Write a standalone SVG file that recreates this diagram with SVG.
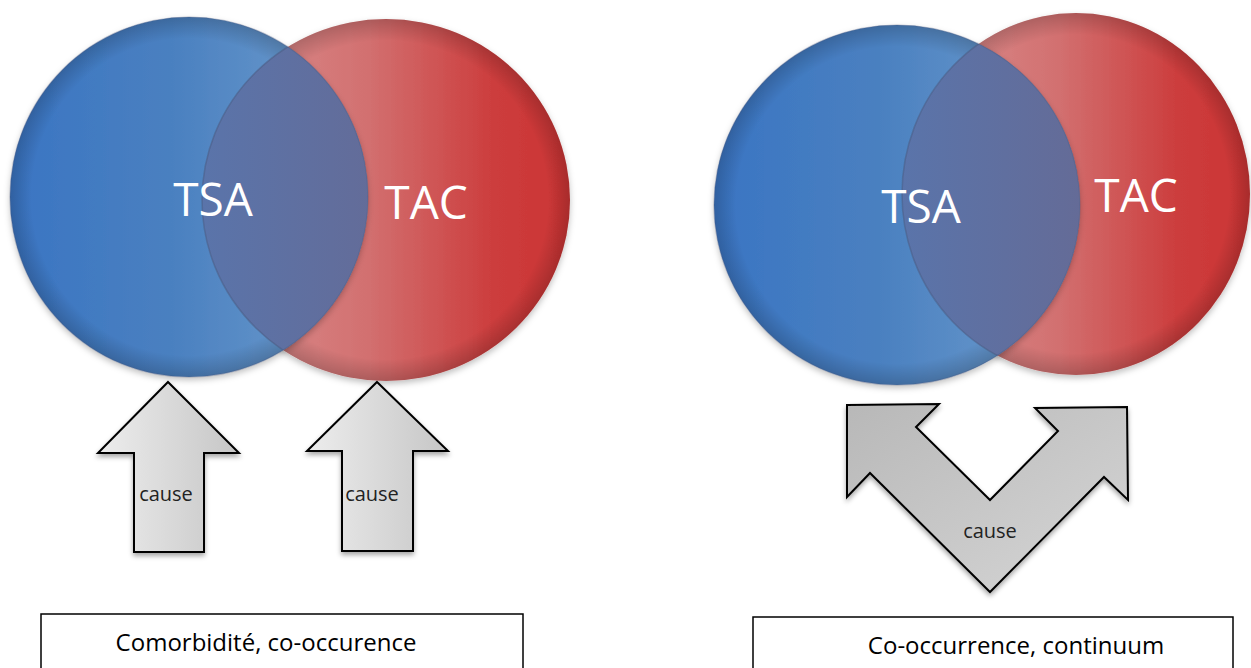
<svg xmlns="http://www.w3.org/2000/svg" width="1251" height="668" viewBox="0 0 1251 668">
<style>
.lbl{font-family:"Open Sans","Liberation Sans",sans-serif;fill:#fff;font-size:46px;text-anchor:middle}
.cause{font-family:"Open Sans","Liberation Sans",sans-serif;fill:#222;font-size:20px;text-anchor:middle}
.box{fill:#fff;stroke:#000;stroke-width:1.5}
.boxt{font-family:"Open Sans","Liberation Sans",sans-serif;fill:#000;font-size:24px;text-anchor:middle}
.arrow{stroke:#000;stroke-width:2;stroke-linejoin:miter}
</style>
<defs>
<linearGradient id="gBlue" x1="0" y1="0" x2="1" y2="0">
<stop offset="0" stop-color="#3a75c3"/>
<stop offset="0.45" stop-color="#4a80c0"/>
<stop offset="1" stop-color="#72a0cf"/>
</linearGradient>
<linearGradient id="gRed" x1="0" y1="0" x2="1" y2="0">
<stop offset="0" stop-color="#dc9494"/>
<stop offset="0.45" stop-color="#d27070"/>
<stop offset="0.8" stop-color="#cc3c3c"/>
<stop offset="1" stop-color="#cc3535"/>
</linearGradient>
<linearGradient id="gMix" x1="0" y1="0" x2="1" y2="0">
<stop offset="0" stop-color="#5a74aa"/>
<stop offset="1" stop-color="#6e6385"/>
</linearGradient>
<radialGradient id="gEdge" cx="0.5" cy="0.5" r="0.5">
<stop offset="0.88" stop-color="#000" stop-opacity="0"/>
<stop offset="1" stop-color="#000" stop-opacity="0.18"/>
</radialGradient>
<linearGradient id="gArrow" x1="0" y1="0" x2="1" y2="0">
<stop offset="0" stop-color="#ededed"/>
<stop offset="1" stop-color="#c6c6c6"/>
</linearGradient>
<linearGradient id="gV" x1="0" y1="0" x2="1" y2="1">
<stop offset="0" stop-color="#b8b8b8"/>
<stop offset="1" stop-color="#d6d6d6"/>
</linearGradient>
<filter id="sh" x="-20%" y="-20%" width="140%" height="140%">
<feDropShadow dx="0" dy="3" stdDeviation="2.5" flood-color="#000" flood-opacity="0.35"/>
</filter>
<filter id="shc" x="-20%" y="-20%" width="140%" height="140%">
<feDropShadow dx="0" dy="3" stdDeviation="3" flood-color="#000" flood-opacity="0.25"/>
</filter>
<clipPath id="clipBL"><ellipse cx="189" cy="197" rx="179" ry="180"/></clipPath>
<clipPath id="clipBR"><ellipse cx="897" cy="205" rx="183" ry="180"/></clipPath>
</defs>

<g id="venn-left">
<g id="tac-left">
<ellipse cx="386" cy="200" rx="184" ry="181" fill="url(#gRed)" filter="url(#shc)"/>
<ellipse cx="386" cy="200" rx="184" ry="181" fill="url(#gEdge)"/>
</g>
<g id="tsa-left">
<ellipse cx="189" cy="197" rx="179" ry="180" fill="url(#gBlue)" filter="url(#shc)"/>
<ellipse cx="189" cy="197" rx="179" ry="180" fill="url(#gEdge)"/>
</g>
<g id="overlap-left" clip-path="url(#clipBL)">
<ellipse cx="386" cy="200" rx="184" ry="181" fill="url(#gMix)" stroke="#4a5a80" stroke-opacity="0.5" stroke-width="1.5"/>
</g>
<ellipse cx="189" cy="197" rx="179" ry="180" fill="none" stroke="#4a5a80" stroke-opacity="0.35" stroke-width="1.2"/>
<text class="lbl" x="213" y="216">TSA</text>
<text class="lbl" x="426" y="219">TAC</text>
</g>

<g id="venn-right">
<g id="tac-right">
<ellipse cx="1076" cy="194" rx="174" ry="181" fill="url(#gRed)" filter="url(#shc)"/>
<ellipse cx="1076" cy="194" rx="174" ry="181" fill="url(#gEdge)"/>
</g>
<g id="tsa-right">
<ellipse cx="897" cy="205" rx="183" ry="180" fill="url(#gBlue)" filter="url(#shc)"/>
<ellipse cx="897" cy="205" rx="183" ry="180" fill="url(#gEdge)"/>
</g>
<g id="overlap-right" clip-path="url(#clipBR)">
<ellipse cx="1076" cy="194" rx="174" ry="181" fill="url(#gMix)" stroke="#4a5a80" stroke-opacity="0.5" stroke-width="1.5"/>
</g>
<ellipse cx="897" cy="205" rx="183" ry="180" fill="none" stroke="#4a5a80" stroke-opacity="0.35" stroke-width="1.2"/>
<text class="lbl" x="921" y="223">TSA</text>
<text class="lbl" x="1136" y="212">TAC</text>
</g>

<g id="connectors">
<g id="arrow-cause-1">
<polygon class="arrow" fill="url(#gArrow)" filter="url(#sh)" points="168,382 239,453 204,453 204,552 134,552 134,453 98,453"/>
<text class="cause" x="166" y="501">cause</text>
</g>
<g id="arrow-cause-2">
<polygon class="arrow" fill="url(#gArrow)" filter="url(#sh)" points="377,382 448,451 413,451 413,551 342,551 342,451 307,451"/>
<text class="cause" x="372" y="501">cause</text>
</g>
<g id="arrow-cause-v">
<polygon class="arrow" fill="url(#gV)" filter="url(#sh)" points="847,405 939,404 916,427 990,500 1058,431 1035,408 1127,407 1128,500 1104,477 990,592 870,473 847,497"/>
<text class="cause" x="990" y="538">cause</text>
</g>
</g>

<g id="box-left">
<rect class="box" x="41" y="614" width="482" height="60"/>
<text class="boxt" x="266" y="651">Comorbidité, co-occurence</text>
</g>
<g id="box-right">
<rect class="box" x="753" y="617" width="480" height="60"/>
<text class="boxt" x="1016" y="654">Co-occurrence, continuum</text>
</g>
</svg>
